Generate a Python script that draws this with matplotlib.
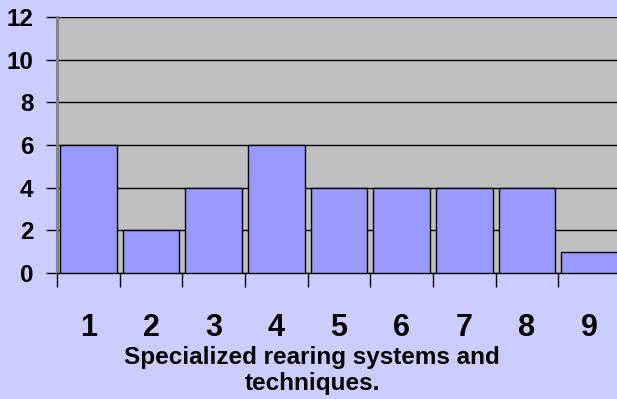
import numpy as np
import matplotlib
matplotlib.use('Agg')
import matplotlib.pyplot as plt

# values
categories = ['1', '2', '3', '4', '5', '6', '7', '8', '9']
counts = [6, 2, 4, 6, 4, 4, 4, 4, 1]
y_ticks = [0, 2, 4, 6, 8, 10, 12]
x_title = 'Specialized rearing systems and\ntechniques.'

plt.rcParams['font.family'] = ['Liberation Sans', 'DejaVu Sans']

fig = plt.figure(figsize=(6.17, 3.99), dpi=100)
fig.patch.set_facecolor('#CCCCFF')

W, H = 617.0, 399.0
left, right, top, bottom = 57, 621, 17, 273
ax = fig.add_axes([left / W, 1 - bottom / H, (right - left) / W, (bottom - top) / H])
ax.set_facecolor('#C0C0C0')

pos = np.arange(len(categories))
ax.bar(pos, counts, width=0.9, color='#9999FF', edgecolor='black', linewidth=1, zorder=3)

ax.set_xlim(-0.5, len(categories) - 0.5)
ax.set_ylim(0, 12)

ax.set_yticks(y_ticks)
ax.set_yticklabels([str(t) for t in y_ticks], fontsize=17.5, fontweight='bold')
ax.tick_params(axis='y', length=8, width=1, pad=9, color='black')
ax.yaxis.grid(True, color='black', linewidth=1, zorder=1)
ax.set_axisbelow(True)

ax.set_xticks(pos)
ax.set_xticklabels(categories, fontsize=22, fontweight='bold')
ax.set_xticks(np.arange(len(categories) + 1) - 0.5, minor=True)
ax.tick_params(axis='x', which='major', length=0, pad=29)
ax.tick_params(axis='x', which='minor', length=10, width=1, color='black')

for s in ['top', 'right']:
    ax.spines[s].set_visible(False)
ax.spines['left'].set_color('#808080')
ax.spines['left'].set_linewidth(2)
ax.spines['bottom'].set_color('black')
ax.spines['bottom'].set_linewidth(1)

fig.text(312 / W, 1 - 346 / H, x_title, ha='center', va='top', fontsize=17.5,
         fontweight='bold', linespacing=1.15)

fig.savefig('out.png', dpi=100, facecolor=fig.get_facecolor())
